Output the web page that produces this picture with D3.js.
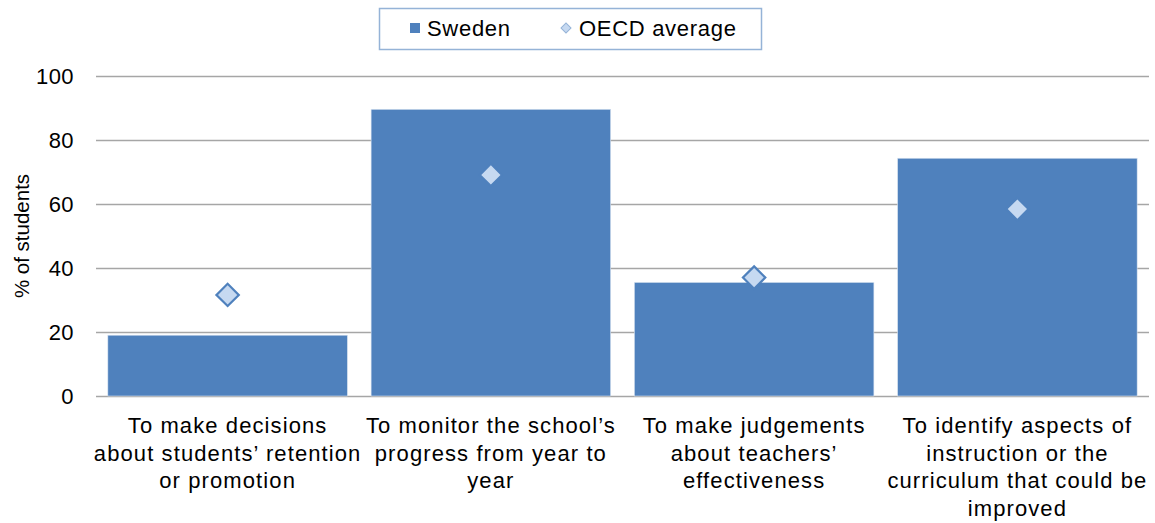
<!DOCTYPE html>
<html>
<head>
<meta charset="utf-8">
<script src="https://cdnjs.cloudflare.com/ajax/libs/d3/7.8.5/d3.min.js"></script>
<style>
  body { margin: 0; background: #fff; }
  svg { font-family: 'Liberation Sans', Arial, sans-serif; }
  .tick text { fill: #000; }
</style>
</head>
<body>
<div id="chart"></div>
<script>

// purposes (x axis categories), one label line per entry
const categories = [
  ["To make decisions", "about students\u2019 retention", "or promotion"],
  ["To monitor the school\u2019s", "progress from year to", "year"],
  ["To make judgements", "about teachers\u2019", "effectiveness"],
  ["To identify aspects of", "instruction or the", "curriculum that could be", "improved"]
];
const sweden = [19, 89.6, 35.5, 74.3];
const oecdAvg = [31.6, 69.1, 37.0, 58.4];
const yTicks = [0, 20, 40, 60, 80, 100];

const width = 1155, height = 523;
const margin = {top: 76, right: 6, bottom: 127, left: 96};

const svg = d3.select("#chart").append("svg")
  .attr("width", width)
  .attr("height", height);

const x = d3.scaleBand()
  .domain(d3.range(categories.length))
  .range([margin.left, width - margin.right])
  .paddingInner(0.09)
  .paddingOuter(0.045);

const y = d3.scaleLinear()
  .domain([0, 100])
  .range([height - margin.bottom, margin.top]);

// gridlines + y labels
const yAxis = svg.append("g")
  .attr("transform", "translate(" + margin.left + ",0)")
  .call(d3.axisLeft(y)
    .tickValues(yTicks)
    .tickSize(-(width - margin.left - margin.right))
    .tickPadding(22));
yAxis.select(".domain").remove();
yAxis.selectAll(".tick line")
  .attr("stroke", "#a6a6a6")
  .attr("stroke-width", 1.5);
yAxis.selectAll(".tick text")
  .attr("font-size", 22)
  .attr("letter-spacing", 0.4);

svg.append("text")
  .attr("transform", "translate(29," + y(50) + ") rotate(-90)")
  .attr("text-anchor", "middle")
  .attr("font-size", 20.5)
  .text("% of students");

// bars
svg.append("g").selectAll("rect")
  .data(sweden)
  .join("rect")
  .attr("x", (d, i) => x(i))
  .attr("y", d => y(d))
  .attr("width", x.bandwidth())
  .attr("height", d => y(0) - y(d))
  .attr("fill", "#4f81bd")
  .attr("stroke", "#dbe5f1")
  .attr("stroke-width", 0.6);

// OECD diamonds
const diamond = d3.symbol().type(d3.symbolSquare).size(250);
svg.append("g").selectAll("path")
  .data(oecdAvg)
  .join("path")
  .attr("d", diamond)
  .attr("transform", (d, i) => "translate(" + (x(i) + x.bandwidth() / 2) + "," + y(d) + ") rotate(45)")
  .attr("fill", "#c6d9f1")
  .attr("stroke", "#4f81bd")
  .attr("stroke-width", 2.2);

// x labels
const xl = svg.append("g").selectAll("text")
  .data(categories)
  .join("text")
  .attr("text-anchor", "middle")
  .attr("font-size", 22)
  .attr("letter-spacing", 1.1)
  .attr("fill", "#000");
xl.selectAll("tspan")
  .data(d => d)
  .join("tspan")
  .attr("x", function() {
    const i = categories.indexOf(d3.select(this.parentNode).datum());
    return x(i) + x.bandwidth() / 2;
  })
  .attr("y", (d, j) => 433 + j * 27.5)
  .text(d => d);

// legend
const lg = svg.append("g");
lg.append("rect")
  .attr("x", 379.5).attr("y", 8.5)
  .attr("width", 382).attr("height", 41)
  .attr("fill", "#fff")
  .attr("stroke", "#95b3d7")
  .attr("stroke-width", 1.5);
lg.append("rect")
  .attr("x", 410).attr("y", 23)
  .attr("width", 10).attr("height", 10)
  .attr("fill", "#4f81bd");
lg.append("text")
  .attr("x", 427).attr("y", 36)
  .attr("font-size", 22)
  .attr("letter-spacing", 0.7)
  .text("Sweden");
lg.append("path")
  .attr("d", d3.symbol().type(d3.symbolSquare).size(50))
  .attr("transform", "translate(566,28) rotate(45)")
  .attr("fill", "#c6d9f1")
  .attr("stroke", "#95b3d7")
  .attr("stroke-width", 1);
lg.append("text")
  .attr("x", 579).attr("y", 36)
  .attr("font-size", 22)
  .attr("letter-spacing", 0.7)
  .text("OECD average");

</script>
</body>
</html>
